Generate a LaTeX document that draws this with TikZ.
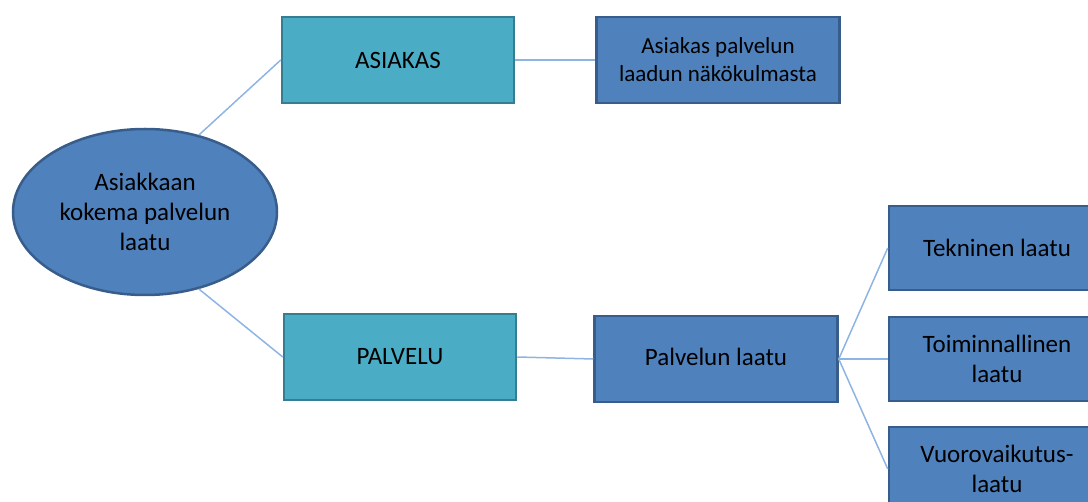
\documentclass[tikz,border=0pt]{standalone}
\usepackage{fontspec}
\setmainfont{Carlito}
\usetikzlibrary{shapes.geometric}

\definecolor{qblue}{HTML}{4F81BD}
\definecolor{qblueline}{HTML}{385D8A}
\definecolor{qteal}{HTML}{4BACC6}
\definecolor{qtealline}{HTML}{357D91}
\definecolor{qlink}{HTML}{8EB4E3}

\begin{document}
\begin{tikzpicture}[x=1pt, y=-1pt,
        every node/.style={font=\fontsize{25}{30}\selectfont, align=center, inner sep=0pt},
        bluebox/.style={draw=qblueline, fill=qblue, line width=2.5pt, minimum width=243pt, minimum height=86pt},
        tealbox/.style={draw=qtealline, fill=qteal, line width=2.5pt, minimum width=232pt, minimum height=86pt},
        leafbox/.style={bluebox, minimum width=216pt, minimum height=84pt},
        link/.style={draw=qlink, line width=1.5pt}]
        \useasboundingbox (0,0) rectangle (1088,502);
        \clip (0,0) rectangle (1088,502);

        % Root
        \node[ellipse, draw=qblueline, fill=qblue, line width=2.5pt, minimum width=264pt, minimum height=166pt]
            (koettu) at (145,212) {Asiakkaan\\kokema palvelun\\laatu};

        % Upper branch
        \node[tealbox] (asiakas) at (398,60) {ASIAKAS};
        \node[bluebox, font=\fontsize{23}{28}\selectfont] (nakokulma) at (718,60) {Asiakas palvelun\\laadun näkökulmasta};

        % Lower branch
        \node[tealbox] (palvelu) at (400,357) {PALVELU};
        \node[bluebox] (laatu) at (716,359) {\raisebox{5pt}{Palvelun laatu}};

        % Leaves
        \node[leafbox] (tekninen) at (997,248) {Tekninen laatu};
        \node[leafbox] (toiminnallinen) at (997,359) {Toiminnallinen\\laatu};
        \node[leafbox] (vuoro) at (997,469) {Vuorovaikutus-\\laatu};

        % Connectors
        \draw[link] (koettu.55) -- (asiakas.west);
        \draw[link] (koettu.-55) -- (palvelu.west);
        \draw[link] (asiakas.east) -- (nakokulma.west);
        \draw[link] (palvelu.east) -- (laatu.west);
        \foreach \leaf in {tekninen, toiminnallinen, vuoro}
            \draw[link] (laatu.east) -- (\leaf.west);
\end{tikzpicture}
\end{document}
